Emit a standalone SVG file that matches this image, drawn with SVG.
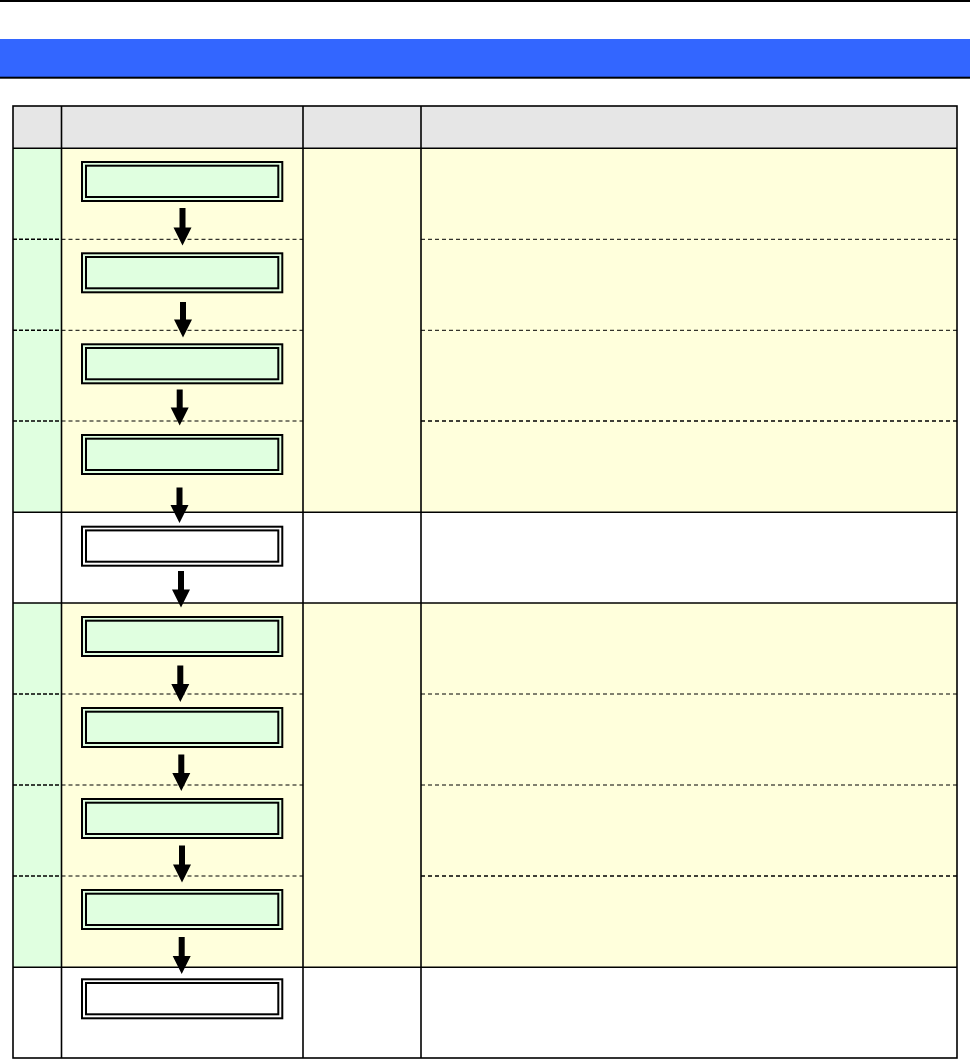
<svg xmlns="http://www.w3.org/2000/svg" width="970" height="1059" viewBox="0 0 970 1059">
<style>
.grid{stroke:#000;stroke-width:1.6;fill:none}
.d1{stroke:#000;stroke-width:1.5;stroke-dasharray:4 2;fill:none}
.d2{stroke:#000;stroke-width:1;stroke-dasharray:4 3;fill:none}
.g{fill:#E0FFE0}
.y{fill:#FFFFDC}
.w{fill:#FFFFFF}
.bo{stroke:#000;stroke-width:2}
.bi{stroke:#000;stroke-width:2;fill:none}
.arr{fill:#000}
</style>
<defs>
<g id="boxG">
<rect x="82" y="0" width="200.3" height="39" class="g bo"/>
<rect x="86" y="3.7" width="192.3" height="31.3" class="bi"/>
</g>
<g id="boxW">
<rect x="82" y="0" width="200.3" height="39" class="w bo"/>
<rect x="86" y="3.7" width="192.3" height="31.3" class="bi"/>
</g>
</defs>
<rect x="0" y="0" width="970" height="1059" fill="#fff"/>
<g id="header-bar">
<rect x="0" y="0" width="970" height="2" fill="#000"/>
<rect x="0" y="39" width="970" height="38" fill="#3366FF"/>
<rect x="0" y="76.7" width="970" height="2" fill="#000"/>
</g>
<g id="table">
<rect x="13" y="106" width="944" height="42.3" fill="#E6E6E6"/>
<rect x="13" y="148.3" width="48.5" height="364" class="g"/>
<rect x="61.5" y="148.3" width="895.5" height="364" class="y"/>
<rect x="13" y="603" width="48.5" height="364.3" class="g"/>
<rect x="61.5" y="603" width="895.5" height="364.3" class="y"/>
<g class="d1">
<line x1="13" y1="239.3" x2="61.5" y2="239.3"/>
<line x1="13" y1="330.3" x2="61.5" y2="330.3"/>
<line x1="13" y1="421" x2="61.5" y2="421"/>
<line x1="13" y1="694" x2="61.5" y2="694"/>
<line x1="13" y1="785" x2="61.5" y2="785"/>
<line x1="13" y1="876" x2="61.5" y2="876"/>
</g>
<g class="d2">
<line x1="61.5" y1="239.3" x2="303" y2="239.3"/>
<line x1="61.5" y1="330.3" x2="303" y2="330.3"/>
<line x1="61.5" y1="421" x2="303" y2="421"/>
<line x1="61.5" y1="694" x2="303" y2="694"/>
<line x1="61.5" y1="785" x2="303" y2="785"/>
<line x1="61.5" y1="876" x2="303" y2="876"/>
<line x1="421" y1="239.3" x2="957" y2="239.3"/>
<line x1="421" y1="330.3" x2="957" y2="330.3"/>
<line x1="421" y1="421" x2="957" y2="421" style="stroke-width:1.5"/>
<line x1="421" y1="694" x2="957" y2="694"/>
<line x1="421" y1="785" x2="957" y2="785"/>
<line x1="421" y1="876" x2="957" y2="876" style="stroke-width:1.5"/>
</g>
<g class="grid">
<rect x="13" y="106" width="944" height="952"/>
<line x1="13" y1="148.3" x2="957" y2="148.3"/>
<line x1="13" y1="512.3" x2="957" y2="512.3"/>
<line x1="13" y1="603" x2="957" y2="603"/>
<line x1="13" y1="967.3" x2="957" y2="967.3"/>
<line x1="61.5" y1="106" x2="61.5" y2="1058"/>
<line x1="303" y1="106" x2="303" y2="1058"/>
<line x1="421" y1="106" x2="421" y2="1058"/>
</g>
</g>
<g id="nodes">
<g id="node1"><use href="#boxG" y="162"/></g>
<g id="node2"><use href="#boxG" y="253.3"/></g>
<g id="node3"><use href="#boxG" y="344.3"/></g>
<g id="node4"><use href="#boxG" y="435"/></g>
<g id="node5"><use href="#boxW" y="526.7"/></g>
<g id="node6"><use href="#boxG" y="617"/></g>
<g id="node7"><use href="#boxG" y="708"/></g>
<g id="node8"><use href="#boxG" y="799"/></g>
<g id="node9"><use href="#boxG" y="890"/></g>
<g id="node10"><use href="#boxW" y="979.3"/></g>
</g>
<g id="connectors" class="arr">
<polygon points="179.5,208 185.5,208 185.5,227.5 191.5,227.5 182.5,245.5 173.5,227.5 179.5,227.5"/>
<polygon points="180,302 186,302 186,319.5 192,319.5 183,337.5 174,319.5 180,319.5"/>
<polygon points="176.7,389.5 182.7,389.5 182.7,407.5 188.7,407.5 179.7,425.5 170.7,407.5 176.7,407.5"/>
<polygon points="176.5,487.5 182.5,487.5 182.5,505 188.5,505 179.5,523 170.5,505 176.5,505"/>
<polygon points="178,571 184,571 184,589.5 190,589.5 181,607.5 172,589.5 178,589.5"/>
<polygon points="177.3,665.5 183.3,665.5 183.3,684 189.3,684 180.3,702 171.3,684 177.3,684"/>
<polygon points="178.3,754.5 184.3,754.5 184.3,773 190.3,773 181.3,791 172.3,773 178.3,773"/>
<polygon points="179,845.5 185,845.5 185,864.5 191,864.5 182,882.5 173,864.5 179,864.5"/>
<polygon points="178.7,937 184.7,937 184.7,956 190.7,956 181.7,974 172.7,956 178.7,956"/>
</g>
</svg>
